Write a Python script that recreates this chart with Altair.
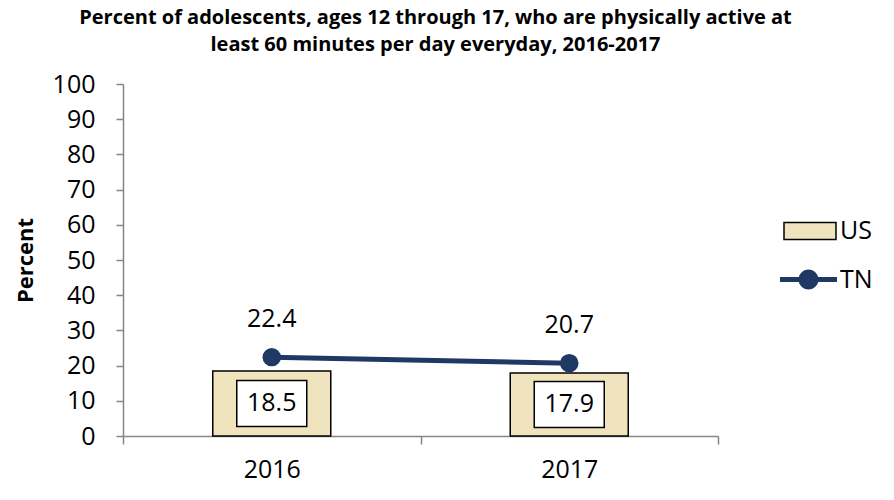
import altair as alt
import pandas as pd

years = ["2016", "2017"]
us_values = [18.5, 17.9]
tn_values = [22.4, 20.7]
y_ticks = [0, 10, 20, 30, 40, 50, 60, 70, 80, 90, 100]

df = pd.DataFrame({"year": years, "US": us_values, "TN": tn_values})

FONT = "Open Sans"
BEIGE = "#F0E4BE"
NAVY = "#1F3864"
AXIS_GRAY = "#868686"
FS = 25

box_path = "M-1,-0.657H1V0.657H-1Z"
us_sym = "M-1,-0.327H1V0.327H-1Z"
tn_sym = "M-1,-0.09H1V0.09H-1Z M-0.35,0A0.35,0.35 0 1,1 0.35,0A0.35,0.35 0 1,1 -0.35,0Z"

x_enc = alt.X(
    "year:N",
    scale=alt.Scale(paddingInner=0, paddingOuter=0),
    axis=alt.Axis(
        title=None, labelAngle=0, tickBand="extent", tickSize=8,
        tickColor=AXIS_GRAY, domainColor=AXIS_GRAY, domainWidth=1.5, tickWidth=1.5,
        labelFont=FONT, labelFontSize=FS, labelColor="black", labelPadding=13,
    ),
)
y_scale = alt.Scale(domain=[0, 100], nice=False)
y_axis = alt.Axis(
    values=y_ticks, grid=False, tickSize=7, tickColor=AXIS_GRAY, tickWidth=1.5,
    domainColor=AXIS_GRAY, domainWidth=1.5, labelOverlap=False,
    labelFont=FONT, labelFontSize=FS, labelColor="black", labelPadding=21,
    title="Percent", titleFont=FONT, titleFontSize=22, titleFontWeight="bold",
    titleColor="black", titlePadding=15,
)


def y_enc(field):
    return alt.Y(field, scale=y_scale, axis=y_axis)


base = alt.Chart(df)

bars = base.mark_bar(size=118, stroke="black", strokeWidth=1.5).transform_calculate(
    s_us="'US'"
).encode(
    x=x_enc,
    y=y_enc("US:Q"),
    fill=alt.Fill(
        "s_us:N", scale=alt.Scale(domain=["US"], range=[BEIGE]),
        legend=alt.Legend(
            title=None, orient="none", legendX=660, legendY=120, padding=0,
            symbolType=us_sym, symbolSize=2704, symbolStrokeColor="black",
            symbolStrokeWidth=1.5, labelFont=FONT, labelFontSize=FS,
            labelColor="black", labelOffset=3,
        ),
    ),
)

boxes = base.mark_point(
    shape=box_path, size=4900, filled=True, fill="white", stroke="black",
    strokeWidth=1.5, opacity=1,
).transform_calculate(mid="datum.US / 2").encode(
    x=x_enc, y=y_enc("mid:Q")
)

box_text = base.mark_text(font=FONT, fontSize=FS, color="black").transform_calculate(
    mid="datum.US / 2"
).encode(
    x=x_enc, y=y_enc("mid:Q"), text=alt.Text("US:Q", format=".1f")
)

line = base.mark_line(strokeWidth=5, color=NAVY).encode(
    x=x_enc, y=y_enc("TN:Q")
)

points = base.mark_point(filled=True, size=340, opacity=1).transform_calculate(
    s_tn="'TN'"
).encode(
    x=x_enc,
    y=y_enc("TN:Q"),
    color=alt.Color(
        "s_tn:N", scale=alt.Scale(domain=["TN"], range=[NAVY]),
        legend=alt.Legend(
            title=None, orient="none", legendX=657, legendY=167, padding=0,
            symbolType=tn_sym, symbolSize=3249, symbolStrokeWidth=0,
            labelFont=FONT, labelFontSize=FS, labelColor="black", labelOffset=3,
        ),
    ),
)

tn_text = base.mark_text(font=FONT, fontSize=FS, color="black", dy=-38).encode(
    x=x_enc, y=y_enc("TN:Q"), text=alt.Text("TN:Q", format=".1f")
)

chart = alt.layer(bars, boxes, box_text, line, points, tn_text).resolve_scale(
    fill="independent", color="independent"
).properties(
    width=595,
    height=352,
    padding={"left": 123, "top": 84, "right": 176, "bottom": 64},
    autosize=alt.AutoSizeParams(type="none"),
    title=alt.TitleParams(
        ["Percent of adolescents, ages 12 through 17, who are physically active at",
         "least 60 minutes per day everyday, 2016-2017"],
        font=FONT, fontSize=20, fontWeight="bold", color="black",
        anchor="middle", offset=17, dx=15, lineHeight=27,
    ),
).configure_view(stroke=None)

chart.save("out.html", embed_options={"renderer": "svg", "actions": False})
